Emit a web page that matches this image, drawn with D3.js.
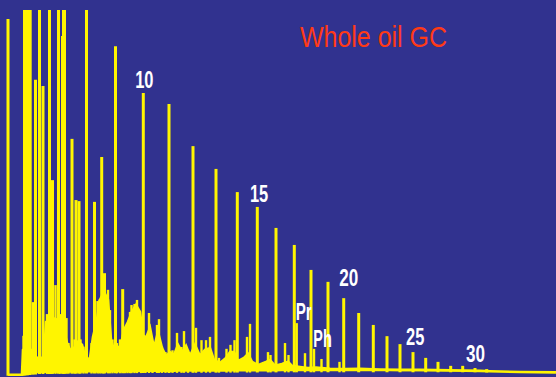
<!DOCTYPE html>
<html><head><meta charset="utf-8">
<script src="https://cdn.jsdelivr.net/npm/d3@7"></script>
<style>html,body{margin:0;padding:0;background:#31328f;overflow:hidden}svg{display:block}</style>
</head><body>
<svg id="chart" width="556" height="377"></svg>
<script>
// ---- Data (retention time in minutes, detector response in % full scale) ----
const majorTimes   = [0.80, 2.45, 2.60, 2.75, 2.90, 3.02, 3.55, 3.95, 4.30, 4.95, 5.25, 5.85, 6.25, 6.35, 6.45, 7.20, 7.60, 7.90, 8.65, 9.45, 10.17, 10.45, 11.55, 12.27, 14.33, 16.90, 19.30, 21.60, 23.73, 25.73, 27.60, 29.43, 31.10, 32.80, 34.37, 35.87, 37.33, 38.70, 40.00, 41.30, 42.57, 43.80, 45.07, 46.27, 47.50, 48.67];
const majorHeights = [97.5, 100, 100, 100, 100, 100, 80.7, 100, 79, 100, 53, 100, 92.8, 100, 100, 64.4, 47.5, 47.2, 100, 47, 59.4, 27.3, 90, 22.9, 77.1, 74, 62.4, 56.1, 49.7, 45.6, 39.8, 35.1, 28.2, 24.9, 20.4, 16.3, 13, 9.9, 7.7, 5.5, 3.9, 2.8, 1.7, 1.7, 1.1, 0.8];

const minorTimes   = [2.35, 3.30, 4.70, 5.15, 5.55, 6.00, 6.65, 6.85, 7.45, 8.05, 8.35, 9.15, 9.75, 9.95, 10.35, 10.80, 11.00, 11.25, 11.70, 12.00, 12.50, 12.75, 13.00, 13.15, 13.45, 13.70, 14.10, 14.55, 14.90, 15.25, 15.70, 15.90, 16.20, 16.55, 17.25, 17.70, 18.15, 18.40, 18.80, 19.60, 20.15, 20.60, 21.00, 21.90, 22.65, 23.05, 23.45, 24.70, 25.00, 26.80, 27.05, 28.50, 28.85, 29.67, 30.50, 31.40, 32.15, 33.95];
const minorHeights = [10, 19.3, 16, 15, 24, 16, 14.9, 8, 9, 9, 7, 8, 19.6, 20, 24, 22.7, 17.1, 9, 8, 9, 12.2, 12.2, 16.6, 18.5, 18.8, 19.9, 15, 10, 16.3, 7.5, 13, 14.6, 7, 5.5, 6, 10.8, 6.9, 11.3, 6.1, 12.2, 8.8, 8.8, 9.7, 3.9, 6.4, 7.5, 8.8, 9.7, 13.3, 5.5, 4.7, 8, 4.7, 13.5, 5.2, 6.4, 3.6, 2.8];

// unresolved hump / noise envelope
const humpTimes  = [0.80, 2.20, 2.30, 2.60, 3.10, 3.20, 3.80, 4.40, 4.60, 5.00, 5.30, 5.80, 6.20, 6.40, 6.70, 7.00, 7.40, 7.80, 8.20, 8.60, 9.00, 9.30, 9.70, 10.00, 10.40, 10.80, 11.10, 11.40, 11.80, 12.10, 12.40, 12.80, 13.20, 13.60, 14.00, 14.30, 14.60, 15.00, 15.40, 15.80, 16.20, 16.60, 17.00, 17.40, 17.80, 18.20, 18.60, 19.00, 19.50, 20.00, 20.50, 21.00, 21.40, 22.00, 22.60, 23.00, 23.40, 23.80, 24.40, 24.80, 25.20, 25.80, 26.60, 27.00, 27.50, 28.20, 28.80, 29.20, 30.00, 30.80, 31.60, 33.00, 34.50, 36.00, 38.00, 40.00, 42.00, 45.00, 48.00, 49.00, 52.00, 55.60];
const humpHeights = [-0.75, -0.75, 6.1, 6.6, 6.1, 4.1, 3.9, 3.9, 13.8, 14.4, 14.9, 14.4, 13.8, 11.6, 8, 6.1, 6.6, 8.3, 7.5, 3.3, 3.9, 9.7, 14.4, 19.9, 22.1, 19.9, 8.8, 6.1, 6.6, 7.5, 11.6, 13.8, 16.6, 18.5, 16.6, 10.2, 9.4, 12.2, 6.6, 11, 6.6, 4.4, 5.5, 4.7, 7.5, 5.5, 7.2, 4.4, 7.5, 4.4, 6.1, 6.6, 3.3, 2.5, 3.9, 5.5, 5.5, 3.0, 3.9, 5.0, 2.8, 1.9, 2.8, 3.3, 1.7, 2.2, 2.8, 1.7, 1.4, 1.1, 1.2, 0.9, 0.8, 0.9, 0.7, 0.6, 0.6, 0.45, 0.3, 0.2, 0.0, -0.1];

// baseline drift
const baseTimes  = [0.80, 2.20, 4.00, 15.0, 30.0, 48.0, 50.0, 55.6];
const baseValues = [-0.75, -0.75, -0.28, 0.0, 0.2, 0.2, 0.0, -0.14];

// peak labels: carbon numbers and isoprenoids
const labelTexts = ["10", "15", "20", "25", "30", "Pr", "Ph"];
const labelPeakTimes = [14.33, 25.73, 34.37, 41.30, 47.50, 29.67, 31.40];
const titleText = "Whole oil GC";

// ---- Drawing ----
const W = 556, H = 377;
const svg = d3.select("#chart");
const x = d3.scaleLinear().domain([0, 55.6]).range([0, W]);
const y = d3.scaleLinear().domain([0, 100]).range([372, 10]);
const baseline = d3.scaleLinear().domain(baseTimes).range(baseValues).clamp(true);

const bg = "#31328f", yellow = "#fff500";
svg.append("rect").attr("width", W).attr("height", H).attr("fill", bg);

const hump = d3.zip(humpTimes, humpHeights);
svg.append("path")
  .datum(hump)
  .attr("fill", yellow)
  .attr("d", d3.area().x(d => x(d[0])).y0(d => y(baseline(d[0]))).y1(d => y(d[1])));
svg.append("path")
  .datum(hump)
  .attr("fill", "none").attr("stroke", yellow).attr("stroke-width", 2.6)
  .attr("d", d3.line().x(d => x(d[0])).y(d => y(d[1])));

function drawPeaks(times, heights, width) {
  svg.append("g").selectAll("line")
    .data(d3.zip(times, heights))
    .join("line")
    .attr("x1", d => x(d[0])).attr("x2", d => x(d[0]))
    .attr("y1", d => y(baseline(d[0])) + 1)
    .attr("y2", d => y(d[1]))
    .attr("stroke", yellow).attr("stroke-width", width);
}
drawPeaks(minorTimes, minorHeights, 2.4);
drawPeaks(majorTimes, majorHeights, 3.0);

// label layout (offsets from the peak top) and widths
const labelLayout = {
  "10": {dx: 1, dy: -5, w: 18.3},
  "15": {dx: 1.8, dy: -5, w: 18.3},
  "20": {dx: 5, dy: -12, w: 19},
  "25": {dx: 2.2, dy: -7, w: 18.3},
  "30": {dx: 0.5, dy: -6, w: 19},
  "Pr": {dx: 7, dy: -3, w: 16},
  "Ph": {dx: 8.5, dy: -2, w: 18.4}
};
const peakHeight = t => {
  const i = majorTimes.indexOf(t);
  if (i >= 0) return majorHeights[i];
  return minorHeights[minorTimes.indexOf(t)];
};
svg.append("g").selectAll("text")
  .data(d3.zip(labelTexts, labelPeakTimes))
  .join("text")
  .attr("x", d => x(d[1]) + labelLayout[d[0]].dx)
  .attr("y", d => y(peakHeight(d[1])) + labelLayout[d[0]].dy)
  .attr("text-anchor", "middle")
  .attr("textLength", d => labelLayout[d[0]].w)
  .attr("lengthAdjust", "spacingAndGlyphs")
  .attr("font-family", "Liberation Sans, Arial, sans-serif")
  .attr("font-weight", "bold")
  .attr("font-size", 23)
  .attr("fill", "#ffffff")
  .text(d => d[0]);

svg.append("text")
  .attr("x", 300).attr("y", 47.3)
  .attr("textLength", 147).attr("lengthAdjust", "spacingAndGlyphs")
  .attr("font-family", "Liberation Sans, Arial, sans-serif")
  .attr("font-size", 29.5)
  .attr("fill", "#ff3a16")
  .text(titleText);
</script>
</body></html>
